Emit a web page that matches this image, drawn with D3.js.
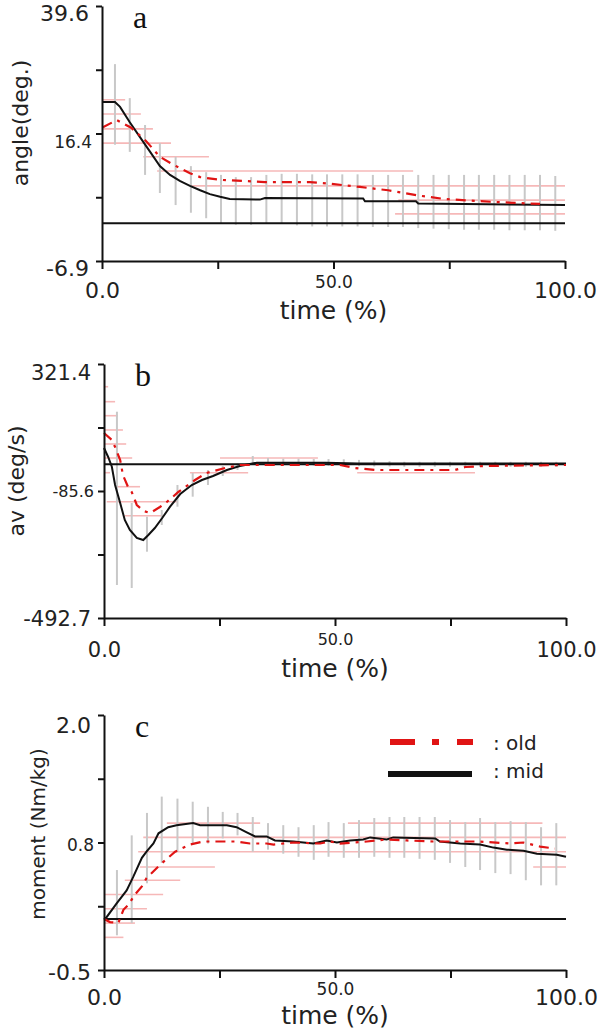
<!DOCTYPE html>
<html>
<head>
<meta charset="utf-8">
<script src="https://cdnjs.cloudflare.com/ajax/libs/d3/7.8.5/d3.min.js"></script>
<style>
  body { margin: 0; background: #fff; }
  svg { display: block; }
</style>
</head>
<body>
<div id="wrapper"></div>
<script>
// ---- data -----------------------------------------------------------

// times (%) where the SD bars of the "mid" group sit
const barTimes = [2.8, 6.0, 9.3, 12.5, 15.9, 19.2, 22.5, 25.7, 28.9, 32.2,
  35.5, 38.8, 42.1, 45.4, 48.6, 51.9, 55.2, 58.5, 61.8, 65.0,
  68.3, 71.6, 74.9, 78.2, 81.4, 84.7, 88.0, 91.3, 94.6, 97.9]

const xTickLabels = ["0.0", "", "50.0", "", "100.0"]

// a : angle (deg.)  [time, value]
const angleMid = [[0, 22.1], [2.8, 22.1], [3.9, 21.2], [6.0, 18.4], [8.2, 15.7], [10.4, 13.0],
  [12.5, 10.4], [14.7, 8.8], [16.8, 7.7], [19.0, 6.8], [21.2, 6.0], [23.3, 5.3], [25.5, 4.8],
  [27.6, 4.4], [34.1, 4.3], [35.2, 4.6], [56.4, 4.5], [56.8, 4.0], [67.8, 4.0], [68.3, 3.6], [100, 3.3]]
const angleOld = [[0.2, 17.5], [3.2, 18.8], [6.3, 17.4], [9.5, 15.0], [12.5, 12.1], [15.1, 10.8],
  [19.0, 9.1], [21.2, 8.4], [25.5, 7.9], [35.2, 7.5], [44.9, 7.5], [49.2, 7.2], [55.7, 6.6],
  [61.8, 6.0], [68.7, 5.0], [74.1, 4.4], [83.8, 3.9], [94.6, 3.5]]
// horizontal SD bars of "old"  [value, from time, to time]
const angleOldErr = [[22.5, 0.2, 5.0], [19.9, 0, 8.4], [17.2, 0, 11.0], [14.6, 0, 14.9],
  [12.1, 8.9, 23.1], [9.5, 11.9, 67.2], [6.8, 19.0, 100], [4.2, 64.0, 100], [1.7, 63.3, 100]]
const angleMidLo = [14.3, 13.0, 8.8, 5.5, 3.3, 1.9, 0.9, 0.0, -0.3, -0.3, 0.0, 0.0, -0.4, -0.6, -0.6,
  -0.6, -0.6, -0.7, -0.7, -0.7, -0.9, -1.0, -1.1, -1.2, -1.2, -1.2, -1.3, -1.3, -1.3, -1.4]
const angleMidHi = [29.0, 22.8, 17.9, 14.6, 12.1, 10.4, 9.3, 8.8, 8.4, 8.4, 8.8, 9.0, 9.0, 8.9, 8.9,
  8.9, 8.9, 8.8, 8.8, 8.8, 8.8, 8.8, 8.8, 8.8, 8.8, 8.8, 8.8, 8.8, 8.8, 8.6]
const angleTicks = ["-6.9", "", "16.4", "", "39.6"]

// b : angular velocity (deg/s)
const avMid = [[0, 52.2], [0.9, 23.3], [1.7, -7.8], [2.4, -66.4], [3.5, -124.1], [4.5, -178.6],
  [5.6, -210.6], [7.1, -236.3], [8.5, -242.7], [9.6, -226.7], [11.0, -204.2], [12.6, -172.2],
  [14.3, -136.0], [16.5, -95.3], [19.0, -66.4], [21.2, -50.4], [23.6, -37.6], [26.6, -18.3],
  [29.4, -5.5], [33.1, 5.1], [48.0, 5.0], [55.0, 2.5], [100, 2.5]]
const avOld = [[0, 100.3], [1.7, 77.8], [2.4, 55.4], [3.5, 13.7], [4.1, -34.4], [5.2, -72.8],
  [6.0, -88.8], [7.1, -130.5], [8.6, -150.0], [10.0, -156.1], [12.1, -136.9], [13.6, -120.9],
  [16.1, -88.8], [19.7, -50.4], [22.2, -27.9], [26.2, -11.9], [29.4, -2.3], [42.4, -2.3],
  [51.1, -2.3], [54.3, -11.9], [58.7, -18.3], [76.0, -18.3], [78.2, -8.7], [82.5, -5.5], [100, -2.3]]
const avOldErr = [[248.6, 0, 0.9], [200.6, 0, 2.4], [155.7, 0, 3.0], [109.9, 0, 4.1], [65.0, 0, 4.8],
  [20.1, 0, 6.1], [20.1, 25.1, 46.3], [-27.0, 0, 1.3], [-27.0, 18.6, 31.2], [-27.0, 54.8, 80.3],
  [-71.9, 2.8, 7.8], [-119.9, 0.6, 15.8], [-164.8, 4.5, 12.8]]
const avMidLo = [-386.9, -396.5, -280.2, -194.6, -136.0, -103.9, -66.4, -37.6, -18.3, 3.1, 4.1, -2.0,
  -4.0, -4.0, -5.0, -5.0, -6.0, -7.0, -7.0, -8.0, -8.0, -8.0, -8.0, -8.0, -8.0, -8.0, -8.0, -8.0, -8.0, -8.0]
const avMidHi = [168.5, -124.1, -168.0, -146.5, -66.4, -27.9, -18.3, -5.5, 3.1, 26.5, 20.1, 18.0,
  18.0, 17.0, 17.0, 16.0, 14.0, 12.0, 10.0, 8.0, 8.0, 8.0, 8.0, 8.0, 8.0, 8.0, 8.0, 8.0, 8.0, 8.0]
const avTicks = ["-492.7", "", "-85.6", "", "321.4"]

// c : moment (Nm/kg)
const momMid = [[0, 0.0], [0.6, 0.02], [2.7, 0.15], [4.9, 0.28], [6.3, 0.41], [8.2, 0.60], [9.2, 0.66],
  [10.7, 0.74], [11.8, 0.84], [13.9, 0.90], [15.7, 0.92], [19.3, 0.94], [20.8, 0.92], [26.6, 0.92],
  [28.7, 0.90], [30.9, 0.85], [32.7, 0.81], [35.2, 0.81], [37.0, 0.77], [41.0, 0.76], [45.3, 0.74],
  [48.2, 0.77], [50.4, 0.75], [53.3, 0.77], [56.1, 0.78], [57.6, 0.80], [61.2, 0.78], [62.6, 0.80],
  [71.7, 0.79], [72.7, 0.76], [77.1, 0.74], [81.4, 0.73], [84.3, 0.70], [87.2, 0.68], [90.8, 0.67],
  [93.7, 0.64], [98.0, 0.63], [100, 0.61]]
const momOld = [[0, 0.00], [1.3, -0.03], [3.1, -0.04], [4.2, 0.09], [5.3, 0.14], [6.7, 0.24],
  [8.2, 0.32], [9.2, 0.40], [12.1, 0.53], [15.4, 0.66], [18.6, 0.73], [21.5, 0.76], [28.7, 0.76],
  [31.6, 0.74], [35.2, 0.74], [36.7, 0.73], [41.0, 0.75], [46.8, 0.74], [48.9, 0.76], [51.1, 0.74],
  [56.9, 0.76], [61.2, 0.78], [65.5, 0.77], [71.3, 0.76], [81.0, 0.76], [87.9, 0.74], [90.8, 0.75],
  [94.4, 0.71], [97.6, 0.69]]
const momOldErr = [[0.94, 13.6, 33.8], [0.94, 52.8, 94.9], [0.80, 8.5, 100], [0.66, 7.4, 100],
  [0.51, 7.8, 24.0], [0.51, 92.9, 100], [0.38, 4.5, 16.5], [0.24, 0, 12.8], [0.10, 0, 9.3],
  [-0.04, 0, 6.7], [-0.18, 0, 4.2]]
const momMidLo = [-0.16, -0.04, 0.35, 0.55, 0.66, 0.74, 0.74, 0.79, 0.82, 0.66, 0.68, 0.64, 0.61, 0.58,
  0.61, 0.60, 0.60, 0.61, 0.60, 0.60, 0.59, 0.58, 0.55, 0.51, 0.48, 0.45, 0.44, 0.38, 0.33, 0.33]
const momMidHi = [0.48, 0.82, 1.04, 1.20, 1.18, 1.15, 1.10, 1.05, 1.04, 1.00, 0.94, 0.92, 0.90, 0.92,
  0.95, 0.94, 0.97, 0.99, 1.00, 1.00, 1.00, 1.00, 0.97, 0.95, 0.99, 0.95, 0.96, 0.95, 0.90, 0.94]
const momTicks = ["-0.5", "", "0.8", "", "2.0"]

const legendLabels = [": old", ": mid"]

// ---- layout ---------------------------------------------------------

const panels = [
  { letter: "a", title: "angle(deg.)", titleX: 28, titleY: 123, titleSize: 22,
    x0: 102, x1: 565, top: 6, bottom: 261, domain: [-6.9, 39.6],
    mid: angleMid, old: angleOld, oldErr: angleOldErr, midLo: angleMidLo, midHi: angleMidHi,
    ticks: angleTicks, big: 22, small: 17, dy: ["0.65em", "", "0.8em", "", "0.68em"],
    xBig: 37, xSmall: 27, xTitle: 58 },
  { letter: "b", title: "av (deg/s)", titleX: 24, titleY: 481, titleSize: 22,
    x0: 104, x1: 566, top: 364, bottom: 618, domain: [-492.7, 321.4],
    mid: avMid, old: avOld, oldErr: avOldErr, midLo: avMidLo, midHi: avMidHi,
    ticks: avTicks, big: 21, small: 16, dy: ["0.36em", "", "0.36em", "", "0.73em"],
    xBig: 39, xSmall: 27, xTitle: 59 },
  { letter: "c", title: "moment (Nm/kg)", titleX: 45, titleY: 834, titleSize: 20,
    x0: 104, x1: 566, top: 715, bottom: 970, domain: [-0.5, 2.0],
    mid: momMid, old: momOld, oldErr: momOldErr, midLo: momMidLo, midHi: momMidHi,
    ticks: momTicks, big: 22, small: 17, dy: ["0.43em", "", "0.48em", "", "0.8em"],
    xBig: 35, xSmall: 25, xTitle: 54, legend: true }
]

const font = "DejaVu Sans, Verdana, sans-serif"
const textColor = "#222"
const oldRed = "#e01414"

const svg = d3.select("#wrapper")
  .append("svg")
    .attr("width", 600)
    .attr("height", 1035)

function drawPanel(p) {
  const xScale = d3.scaleLinear().domain([0, 100]).range([p.x0, p.x1])
  const yScale = d3.scaleLinear().domain(p.domain).range([p.bottom, p.top])
  const g = svg.append("g")

  // horizontal SD bars (old)
  g.selectAll(".herr")
    .data(p.oldErr)
    .join("line")
      .attr("x1", d => xScale(d[1]))
      .attr("x2", d => xScale(d[2]))
      .attr("y1", d => yScale(d[0]))
      .attr("y2", d => yScale(d[0]))
      .attr("stroke", "#f6b8b8")
      .attr("stroke-width", 1.6)

  // vertical SD bars (mid)
  g.selectAll(".verr")
    .data(barTimes)
    .join("line")
      .attr("x1", t => xScale(t))
      .attr("x2", t => xScale(t))
      .attr("y1", (t, i) => yScale(p.midLo[i]))
      .attr("y2", (t, i) => yScale(p.midHi[i]))
      .attr("stroke", "#c8c8c8")
      .attr("stroke-width", 2)

  // zero line
  g.append("line")
    .attr("x1", xScale(0))
    .attr("x2", xScale(100))
    .attr("y1", yScale(0))
    .attr("y2", yScale(0))
    .attr("stroke", "#111")
    .attr("stroke-width", 2)

  const lineGenerator = d3.line()
    .x(d => xScale(d[0]))
    .y(d => yScale(d[1]))

  g.append("path")
    .attr("d", lineGenerator(p.mid))
    .attr("fill", "none")
    .attr("stroke", "#111")
    .attr("stroke-width", 2)

  g.append("path")
    .attr("d", lineGenerator(p.old))
    .attr("fill", "none")
    .attr("stroke", oldRed)
    .attr("stroke-width", 2.2)
    .attr("stroke-dasharray", "10,6,3,6")

  // y axis
  const yTickValues = d3.range(5).map(i => p.domain[0] + i * (p.domain[1] - p.domain[0]) / 4)
  const yAxis = g.append("g")
    .attr("transform", `translate(${p.x0},0)`)
    .call(d3.axisLeft(yScale)
      .tickValues(yTickValues)
      .tickFormat((d, i) => p.ticks[i])
      .tickSize(6)
      .tickSizeOuter(0))
  yAxis.select(".domain").attr("stroke-width", 2).attr("stroke", "#111")
  yAxis.selectAll(".tick line").attr("stroke-width", 2).attr("stroke", "#111")
  yAxis.selectAll(".tick text")
    .attr("font-family", font)
    .attr("fill", textColor)
    .attr("font-size", (d, i) => i === 2 ? p.small : p.big)
    .attr("x", (d, i) => i === 2 ? -10 : -13)
    .attr("dy", (d, i) => p.dy[i])

  // x axis
  const xAxis = g.append("g")
    .attr("transform", `translate(0,${p.bottom})`)
    .call(d3.axisBottom(xScale)
      .tickValues([0, 25, 50, 75, 100])
      .tickFormat((d, i) => xTickLabels[i])
      .tickSize(8)
      .tickSizeOuter(0))
  xAxis.select(".domain").attr("stroke-width", 2).attr("stroke", "#111")
  xAxis.selectAll(".tick line").attr("stroke-width", 2).attr("stroke", "#111")
  xAxis.selectAll(".tick text")
    .attr("font-family", font)
    .attr("fill", textColor)
    .attr("font-size", (d, i) => i === 2 ? p.small : p.big)
    .attr("y", (d, i) => i === 2 ? p.xSmall : p.xBig)
    .attr("dy", 0)

  g.append("text")
    .attr("x", (p.x0 + p.x1) / 2)
    .attr("y", p.bottom + p.xTitle)
    .attr("text-anchor", "middle")
    .attr("font-family", font)
    .attr("font-size", 25)
    .attr("fill", textColor)
    .text("time (%)")

  g.append("text")
    .attr("transform", `translate(${p.titleX},${p.titleY}) rotate(-90)`)
    .attr("text-anchor", "middle")
    .attr("font-family", font)
    .attr("font-size", p.titleSize)
    .attr("fill", textColor)
    .text(p.title)

  g.append("text")
    .attr("x", p.x0 + 31)
    .attr("y", p.top + 22)
    .attr("font-family", "Liberation Serif, Times New Roman, serif")
    .attr("font-size", 32)
    .attr("fill", "#111")
    .text(p.letter)

  if (p.legend) {
    const lx = p.x0 + 286
    g.append("line")
      .attr("x1", lx).attr("x2", lx + 83)
      .attr("y1", p.top + 27).attr("y2", p.top + 27)
      .attr("stroke", oldRed)
      .attr("stroke-width", 6)
      .attr("stroke-dasharray", "25,17,7,18")
    g.append("line")
      .attr("x1", lx - 2).attr("x2", lx + 82)
      .attr("y1", p.top + 59).attr("y2", p.top + 59)
      .attr("stroke", "#111")
      .attr("stroke-width", 6)
    g.selectAll(".leg")
      .data(legendLabels)
      .join("text")
        .attr("x", lx + 103)
        .attr("y", (d, i) => p.top + 35 + i * 28)
        .attr("font-family", font)
        .attr("font-size", 20)
        .attr("fill", textColor)
        .text(d => d)
  }
}

panels.forEach(drawPanel)
</script>
</body>
</html>
